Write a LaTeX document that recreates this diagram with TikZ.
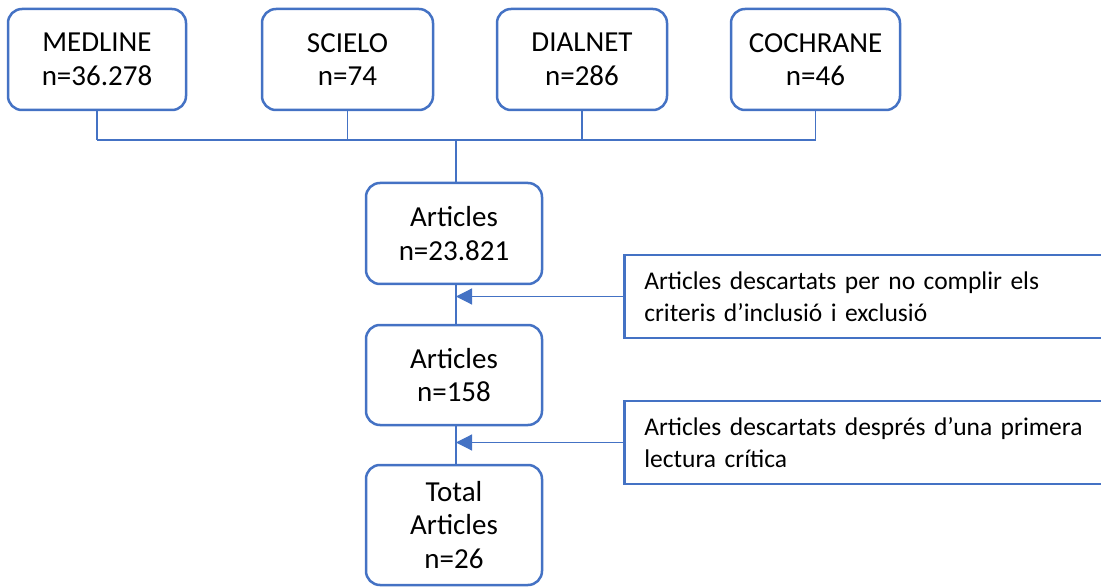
\documentclass[tikz,border=0pt]{standalone}
\usepackage{fontspec}
\setmainfont{Carlito}
\usetikzlibrary{arrows.meta}
\definecolor{boxblue}{RGB}{68,114,196}
\tikzset{
  srcbox/.style={draw=boxblue, line width=2.5pt, rounded corners=14pt, align=center,
    inner sep=0pt, font=\fontsize{29}{33.5}\selectfont},
  outbox/.style={draw=boxblue, line width=2.5pt, anchor=west, align=left, inner xsep=20pt,
    text width=460pt, minimum height=83pt, font=\fontsize{25.5}{32}\selectfont},
  link/.style={draw=boxblue, line width=1.2pt},
  tip/.style={-{Triangle[length=16pt,width=16pt]}}
}
\begin{document}
\begin{tikzpicture}[x=1pt,y=-1pt]
  \useasboundingbox (0,0) rectangle (1101,588);
  % bases de dades
  \foreach \name/\xc/\w/\txt in {medline/97/178/{MEDLINE\\n=36.278},
      scielo/347.5/171/{SCIELO\\n=74}, dialnet/582/170/{DIALNET\\n=286},
      cochrane/815.5/169/{COCHRANE\\n=46}}
    \node[srcbox, minimum width=\w pt, minimum height=101pt] (\name) at (\xc,59.5) {\txt};
  \coordinate (bus) at (456,140);
  \foreach \name in {medline, scielo, dialnet, cochrane}
    \draw[link] (\name.south) -- (\name.south |- bus);
  \draw[link] (medline.south |- bus) -- (cochrane.south |- bus);
  % articles
  \node[srcbox, minimum width=176pt, minimum height=101pt] (art1) at (454,233.5) {Articles\\n=23.821};
  \node[srcbox, minimum width=176pt, minimum height=100pt] (art2) at (454,375) {Articles\\n=158};
  \node[srcbox, minimum width=176pt, minimum height=120pt] (total) at (454,525) {Total\\Articles\\n=26};
  \draw[link] (bus) -- (bus |- art1.north);
  \draw[link] (bus |- art1.south) -- (bus |- art2.north);
  \draw[link] (bus |- art2.south) -- (bus |- total.north);
  % descartats
  \node[outbox] (out1) at (623,296.5) {Articles descartats per no complir els\\criteris d’inclusió i exclusió};
  \node[outbox] (out2) at (623,442.5) {Articles descartats després d’una primera\\lectura crítica};
  \draw[link, tip] (out1.west) -- (out1.west -| bus);
  \draw[link, tip] (out2.west) -- (out2.west -| bus);
\end{tikzpicture}
\end{document}
